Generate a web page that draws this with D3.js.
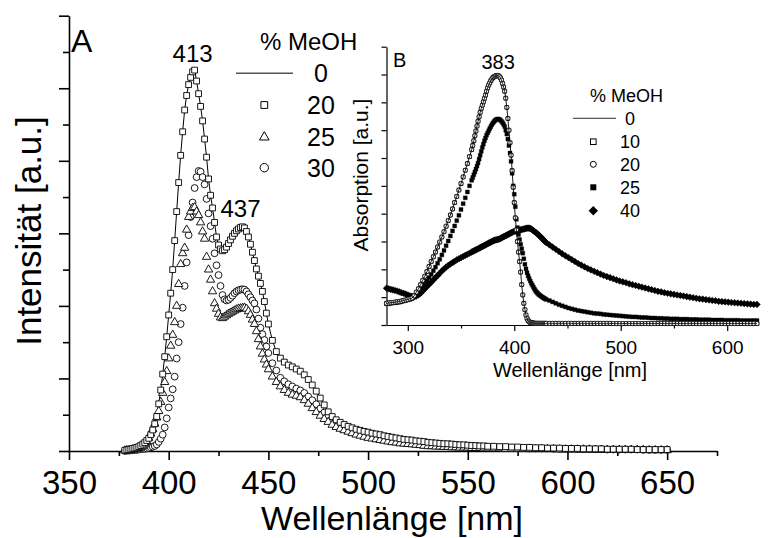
<!DOCTYPE html>
<html><head><meta charset="utf-8">
<script src="https://cdn.jsdelivr.net/npm/d3@7"></script>
<style>
body{margin:0;background:#fff}
svg{display:block;font-family:"Liberation Sans",Arial,Helvetica,sans-serif}
</style>
</head><body>
<svg id="c" width="773" height="538"></svg>
<script>
// ---------------- DATA: panel A (fluorescence) ----------------
const wavelengthsA = [...d3.range(378, 451, 1), ...d3.range(452, 561, 2), ...d3.range(563, 651, 3)];
const intensity20 = [
 0.02,0.03,0.04,0.05,0.07,0.08,0.10,0.12,0.15,0.19,
 0.23,0.29,0.35,0.45,0.58,0.75,0.95,1.30,1.68,2.12,
 2.60,3.15,3.75,4.35,5.00,5.80,6.60,7.40,8.15,8.80,
 9.40,9.80,10.10,10.30,10.45,10.50,10.20,9.85,9.50,9.10,
 8.60,8.10,7.50,7.05,6.70,6.30,5.90,5.68,5.57,5.52,
 5.55,5.62,5.72,5.82,5.92,6.00,6.07,6.12,6.16,6.18,
 6.15,6.05,5.90,5.70,5.48,5.25,5.02,4.82,4.62,4.40,
 4.12,3.80,3.50,
 3.05,2.74,2.56,2.45,2.37,2.32,2.26,2.20,2.10,1.97,
 1.82,1.65,1.46,1.27,1.08,0.95,0.86,0.79,0.73,0.68,
 0.64,0.60,0.57,0.54,0.52,0.49,0.47,0.45,0.42,0.40,
 0.38,0.36,0.34,0.32,0.31,0.30,0.28,0.27,0.26,0.24,
 0.23,0.22,0.21,0.20,0.20,0.19,0.18,0.17,0.17,0.16,
 0.15,0.15,0.14,0.14,0.13,
 0.13,0.12,0.12,0.11,0.11,0.10,0.10,0.09,0.09,0.08,
 0.08,0.08,0.07,0.07,0.07,0.06,0.06,0.06,0.06,0.05,
 0.05,0.05,0.05,0.05,0.04,0.04,0.04,0.04,0.04,0.04
];
const intensity0 = [
 0.02,0.03,0.04,0.05,0.07,0.08,0.10,0.12,0.15,0.19,
 0.23,0.29,0.35,0.45,0.58,0.75,0.95,1.30,1.68,2.12,
 2.60,3.15,3.75,4.35,5.00,5.80,6.60,7.40,8.15,8.80,
 9.40,9.80,10.10,10.30,10.45,10.50,10.20,9.85,9.50,9.10,
 8.60,8.10,7.50,7.05,6.70,6.30,5.90,5.68,5.57,5.52,
 5.55,5.62,5.72,5.82,5.92,6.00,6.07,6.12,6.16,6.18,
 6.15,6.05,5.90,5.70,5.48,5.25,5.02,4.82,4.62,4.40,
 4.12,3.80,3.50,
 3.05,2.74,2.56,2.45,2.37,2.32,2.26,2.20,2.10,1.97,
 1.82,1.65,1.46,1.27,1.08,0.95,0.86,0.79,0.73,0.68,
 0.64,0.60,0.57,0.54,0.52,0.49,0.47,0.45,0.42,0.40,
 0.38,0.36,0.34,0.32,0.31,0.30,0.28,0.27,0.26,0.24,
 0.23,0.22,0.21,0.20,0.20,0.19,0.18,0.17,0.17,0.16,
 0.15,0.15,0.14,0.14,0.13,
 0.13,0.12,0.12,0.11,0.11,0.10,0.10,0.09,0.09,0.08,
 0.08,0.08,0.07,0.07,0.07,0.06,0.06,0.06,0.06,0.05,
 0.05,0.05,0.05,0.05,0.04,0.04,0.04,0.04,0.04,0.04
];
const intensity25 = [
 0.01,0.02,0.02,0.03,0.04,0.05,0.06,0.08,0.10,0.13,
 0.18,0.26,0.36,0.48,0.60,0.75,0.92,1.10,1.35,1.60,
 1.90,2.20,2.55,2.90,3.20,3.55,4.00,4.60,5.15,5.45,
 5.60,6.10,6.45,6.60,6.70,6.72,6.60,6.50,6.30,6.05,
 5.85,5.35,5.00,4.72,4.40,4.07,3.92,3.78,3.68,3.66,
 3.70,3.74,3.78,3.81,3.84,3.87,3.90,3.92,3.93,3.94,
 3.95,3.92,3.85,3.75,3.62,3.50,3.30,3.08,2.88,2.68,
 2.52,2.38,2.25,
 2.05,1.90,1.78,1.68,1.60,1.55,1.52,1.48,1.40,1.30,
 1.18,1.07,0.97,0.88,0.80,0.72,0.66,0.61,0.57,0.53,
 0.49,0.45,0.42,0.39,0.36,0.34,0.32,0.30,0.28,0.26,
 0.24,0.23,0.21,0.20,0.19,0.18,0.17,0.16,0.14,0.13,
 0.13,0.12,0.12,0.11,0.11,0.10,0.10,0.09,0.09,0.09,
 0.08,0.08,0.08,0.07,0.07,
 0.07,0.07,0.06,0.06,0.06,0.06,0.05,0.05,0.05,0.05,
 0.05,0.04,0.04,0.04,0.04,0.04,0.04,0.03,0.03,0.03,
 0.03,0.03,0.03,0.03,0.03,0.03,0.02,0.02,0.02,0.02
];
const intensity30 = [
 0.00,0.01,0.01,0.02,0.02,0.03,0.03,0.04,0.05,0.06,
 0.06,0.07,0.08,0.10,0.12,0.14,0.18,0.25,0.34,0.45,
 0.65,0.90,1.20,1.45,1.70,2.05,2.55,3.00,3.50,3.95,
 4.55,5.20,5.95,6.45,6.85,7.25,7.55,7.72,7.70,7.55,
 7.35,6.95,6.55,6.20,5.85,5.45,5.12,4.85,4.55,4.30,
 4.18,4.15,4.17,4.22,4.28,4.35,4.40,4.43,4.45,4.46,
 4.45,4.40,4.32,4.24,4.15,4.07,3.90,3.65,3.40,3.22,
 3.06,2.88,2.70,
 2.42,2.22,2.02,1.92,1.84,1.78,1.72,1.67,1.60,1.50,
 1.40,1.29,1.17,1.06,0.96,0.87,0.79,0.72,0.66,0.62,
 0.58,0.54,0.51,0.48,0.45,0.43,0.41,0.39,0.37,0.35,
 0.33,0.31,0.29,0.27,0.26,0.24,0.22,0.21,0.19,0.18,
 0.17,0.16,0.16,0.15,0.14,0.14,0.13,0.13,0.12,0.12,
 0.11,0.11,0.10,0.10,0.10,
 0.09,0.09,0.09,0.08,0.08,0.08,0.07,0.07,0.07,0.07,
 0.06,0.06,0.06,0.06,0.05,0.05,0.05,0.05,0.05,0.04,
 0.04,0.04,0.04,0.04,0.04,0.03,0.03,0.03,0.03,0.03
];
const xTicksA = [350, 400, 450, 500, 550, 600, 650];
const legendA = ["0", "20", "25", "30"];
const peakLabelsA = [{nm: 413, text: "413"}, {nm: 437, text: "437"}];

// ---------------- DATA: panel B (absorption) ----------------
const wavelengthsB = [...d3.range(280, 361, 2), ...d3.range(361, 431, 1), ...d3.range(433, 629, 3)];
const absorb10 = [
 0.78,0.79,0.80,0.81,0.82,0.83,0.84,0.86,0.88,0.90,
 0.92,0.94,0.97,1.05,1.18,1.30,1.45,1.60,1.75,1.92,
 2.10,2.28,2.45,2.62,2.80,2.98,3.16,3.35,3.55,3.75,
 3.95,4.17,4.40,4.62,4.85,5.08,5.32,5.56,5.80,6.05,
 6.30,
 6.45,6.62,6.80,6.97,7.15,7.32,7.48,7.64,7.78,7.90,
 8.02,8.14,8.26,8.40,8.52,8.62,8.70,8.78,8.84,8.89,
 8.92,8.94,8.96,8.97,8.96,8.93,8.88,8.80,8.68,8.55,
 8.40,8.15,7.82,7.42,7.00,6.55,6.10,5.55,4.95,4.40,
 3.85,3.42,3.00,2.62,2.28,1.90,1.45,1.08,0.78,0.55,
 0.36,0.24,0.16,0.12,0.09,0.08,0.07,0.07,0.06,0.06,
 0.06,0.06,0.06,0.06,0.06,0.06,0.06,0.06,0.06,0.06,
 0.06,0.06,0.06,0.06,0.06,0.06,0.06,0.06,0.06,0.06,
 0.06,0.06,0.06,0.06,0.06,0.06,0.06,0.06,0.06,0.06,
 0.05,0.05,0.05,0.05,0.05,0.05,0.05,0.05,0.05,0.05,
 0.05,0.05,0.05,0.05,0.05,0.05,0.05,0.05,0.05,0.05,
 0.05,0.05,0.05,0.05,0.05,0.05,0.05,0.05,0.05,0.05,
 0.05,0.05,0.05,0.05,0.05,0.05,0.05,0.05,0.05,0.05,
 0.05,0.05,0.05,0.05,0.05,0.05
];
const absorb20 = absorb10.map(v => v); // 10 % and 20 % MeOH curves lie on top of each other
const absorb0 = absorb10.map(v => v);  // line for 0 % MeOH coincides as well
const absorb25 = [
 0.76,0.77,0.78,0.79,0.80,0.81,0.82,0.84,0.86,0.88,
 0.90,0.92,0.95,1.00,1.08,1.17,1.26,1.36,1.47,1.58,
 1.70,1.82,1.95,2.08,2.22,2.36,2.52,2.68,2.85,3.02,
 3.20,3.38,3.56,3.75,3.94,4.15,4.36,4.57,4.78,5.00,
 5.20,
 5.30,5.40,5.50,5.60,5.71,5.82,5.96,6.10,6.24,6.38,
 6.50,6.62,6.72,6.82,6.90,6.98,7.06,7.13,7.20,7.26,
 7.31,7.35,7.38,7.40,7.40,7.39,7.36,7.32,7.27,7.21,
 7.13,7.00,6.86,6.68,6.45,6.18,5.88,5.45,5.00,4.70,
 4.25,3.80,3.50,3.25,3.07,2.90,2.74,2.58,2.38,2.18,
 2.02,1.88,1.77,1.67,1.58,1.50,1.43,1.36,1.29,1.23,
 1.18,1.14,1.10,1.07,1.04,1.01,0.99,0.96,0.94,0.92,
 0.88,0.83,0.78,0.73,0.69,0.65,0.61,0.58,0.55,0.52,
 0.50,0.48,0.46,0.44,0.42,0.41,0.40,0.38,0.37,0.36,
 0.35,0.34,0.33,0.32,0.31,0.30,0.29,0.29,0.28,0.27,
 0.27,0.26,0.25,0.25,0.24,0.24,0.23,0.23,0.22,0.22,
 0.22,0.21,0.21,0.21,0.20,0.20,0.20,0.19,0.19,0.19,
 0.19,0.18,0.18,0.18,0.18,0.17,0.17,0.17,0.17,0.17,
 0.16,0.16,0.16,0.16,0.16,0.16
];
const absorb40 = [
 1.32,1.30,1.28,1.26,1.24,1.22,1.19,1.16,1.14,1.11,
 1.08,1.05,1.03,1.02,1.04,1.08,1.14,1.22,1.30,1.38,
 1.46,1.54,1.62,1.70,1.78,1.86,1.94,2.01,2.08,2.14,
 2.19,2.24,2.29,2.34,2.38,2.42,2.46,2.50,2.54,2.58,
 2.62,
 2.64,2.66,2.68,2.70,2.72,2.74,2.76,2.78,2.80,2.82,
 2.84,2.86,2.88,2.90,2.92,2.94,2.96,2.98,3.00,3.02,
 3.04,3.05,3.06,3.07,3.08,3.09,3.11,3.13,3.15,3.17,
 3.19,3.21,3.23,3.25,3.27,3.29,3.31,3.33,3.35,3.36,
 3.37,3.38,3.39,3.40,3.41,3.42,3.43,3.44,3.45,3.46,
 3.47,3.48,3.48,3.48,3.47,3.45,3.42,3.39,3.36,3.33,
 3.30,3.27,3.23,3.20,3.16,3.12,3.08,3.04,3.00,2.96,
 2.88,2.80,2.72,2.64,2.56,2.49,2.42,2.35,2.28,2.21,
 2.15,2.09,2.03,1.98,1.93,1.88,1.83,1.78,1.74,1.70,
 1.66,1.62,1.58,1.55,1.52,1.48,1.45,1.42,1.39,1.36,
 1.33,1.30,1.27,1.24,1.21,1.19,1.16,1.14,1.12,1.10,
 1.08,1.06,1.04,1.02,1.00,0.98,0.96,0.94,0.93,0.91,
 0.90,0.88,0.87,0.85,0.84,0.83,0.82,0.81,0.80,0.79,
 0.78,0.77,0.76,0.75,0.74,0.74
];
const xTicksB = [300, 400, 500, 600];
const legendB = ["0", "10", "20", "25", "40"];
const peakLabelsB = [{nm: 383, text: "383"}];

// ---------------- DRAWING ----------------
const svg = d3.select("#c");
svg.append("rect").attr("width", 773).attr("height", 538).attr("fill", "#fff");

function styleAxis(g, sw) {
  g.selectAll("path.domain").attr("stroke", "#000").attr("stroke-width", sw);
  g.selectAll(".tick line").attr("stroke", "#000").attr("stroke-width", sw);
  g.selectAll(".tick text").attr("fill", "#000").attr("font-family", null);
}

function markers(g, xs, ys, xS, yS, sym, size, fill, stroke, sw, rot) {
  const gen = d3.symbol().type(sym).size(size);
  g.append("g").selectAll("path").data(xs.map((x, i) => [x, ys[i]]))
    .join("path")
    .attr("d", gen)
    .attr("transform", d => `translate(${xS(d[0])},${yS(d[1])})${rot ? " rotate(" + rot + ")" : ""}`)
    .attr("fill", fill).attr("stroke", stroke).attr("stroke-width", sw);
}

// ===== Panel A =====
const xA = d3.scaleLinear().domain([350, 675]).range([69, 717]);
const yA = d3.scaleLinear().domain([0, 12]).range([451, 15.7]);
const gA = svg.append("g");

// minor x ticks
gA.append("g").attr("transform", "translate(0,451)")
  .call(d3.axisBottom(xA).tickValues(d3.range(375, 676, 50)).tickSizeInner(5).tickSizeOuter(0).tickFormat(""))
  .call(g => { styleAxis(g, 1.6); g.select(".domain").remove(); });
// major x ticks with labels
const axA = gA.append("g").attr("transform", "translate(0,451)")
  .call(d3.axisBottom(xA).tickValues(xTicksA).tickSizeInner(9).tickSizeOuter(0).tickFormat(d3.format("d")));
styleAxis(axA, 1.6);
axA.selectAll(".tick text").attr("y", 43).attr("dy", 0).attr("font-size", 33);

// y axis (no labels)
gA.append("g").attr("transform", "translate(69,0)")
  .call(d3.axisLeft(yA).tickValues(d3.range(1, 12, 2)).tickSizeInner(6).tickSizeOuter(0).tickFormat(""))
  .call(g => { styleAxis(g, 1.6); g.select(".domain").remove(); });
const ayA = gA.append("g").attr("transform", "translate(69,0)")
  .call(d3.axisLeft(yA).tickValues(d3.range(0, 13, 2)).tickSizeInner(10).tickSizeOuter(0).tickFormat(""));
styleAxis(ayA, 1.6);

// axis titles
gA.append("text").attr("x", 392).attr("y", 530).attr("text-anchor", "middle")
  .attr("font-size", 34).text("Wellenlänge [nm]");
gA.append("text").attr("transform", "translate(41,231) rotate(-90)").attr("text-anchor", "middle")
  .attr("font-size", 35).text("Intensität [a.u.]");
gA.append("text").attr("x", 71).attr("y", 52).attr("font-size", 32).text("A");

// data A
const dA = gA.append("g");
dA.append("path").datum(intensity0)
  .attr("d", d3.line().x((v, i) => xA(wavelengthsA[i])).y(v => yA(v)))
  .attr("fill", "none").attr("stroke", "#000").attr("stroke-width", 1);
markers(dA, wavelengthsA, intensity30, xA, yA, d3.symbolCircle, Math.PI * 3.4 * 3.4, "#fff", "#000", 0.9);
markers(dA, wavelengthsA, intensity25, xA, yA, d3.symbolTriangle, 30, "#fff", "#000", 0.9);
markers(dA, wavelengthsA, intensity20, xA, yA, d3.symbolSquare, 34, "#fff", "#000", 0.9);

// peak labels A
gA.selectAll("text.peakA").data(peakLabelsA).join("text").attr("class", "peakA")
  .attr("x", d => xA(d.nm) - 2)
  .attr("y", d => d.nm === 413 ? 62 : 217)
  .attr("text-anchor", "middle").attr("font-size", 24).text(d => d.text);

// legend A
const lgA = gA.append("g");
lgA.append("text").attr("x", 260).attr("y", 50).attr("font-size", 24).text("% MeOH");
const rowYA = [73.3, 105, 136.7, 167.7];
lgA.append("line").attr("x1", 236).attr("x2", 293).attr("y1", rowYA[0]).attr("y2", rowYA[0])
  .attr("stroke", "#555").attr("stroke-width", 1.6);
lgA.append("path").attr("d", d3.symbol().type(d3.symbolSquare).size(46)())
  .attr("transform", `translate(264.3,${rowYA[1]})`).attr("fill", "#fff").attr("stroke", "#000").attr("stroke-width", 1);
lgA.append("path").attr("d", d3.symbol().type(d3.symbolTriangle).size(40)())
  .attr("transform", `translate(264.3,${rowYA[2] + 0.5})`).attr("fill", "#fff").attr("stroke", "#000").attr("stroke-width", 1);
lgA.append("circle").attr("cx", 264.3).attr("cy", rowYA[3]).attr("r", 4.2)
  .attr("fill", "#fff").attr("stroke", "#000").attr("stroke-width", 1);
lgA.selectAll("text.lab").data(legendA).join("text").attr("class", "lab")
  .attr("x", 321).attr("y", (d, i) => rowYA[i] + 9).attr("text-anchor", "middle")
  .attr("font-size", 25).text(d => d);

// ===== Panel B (inset) =====
const xB = d3.scaleLinear().domain([280, 628]).range([386.5, 757]);
const yB = d3.scaleLinear().domain([0, 10]).range([325, 46.7]);
const gB = svg.append("g");

gB.append("g").attr("transform", "translate(0,325)")
  .call(d3.axisBottom(xB).tickValues([350, 450, 550]).tickSizeInner(3.5).tickSizeOuter(0).tickFormat(""))
  .call(g => { styleAxis(g, 1.2); g.select(".domain").remove(); });
const axB = gB.append("g").attr("transform", "translate(0,325)")
  .call(d3.axisBottom(xB).tickValues(xTicksB).tickSizeInner(6).tickSizeOuter(0).tickFormat(d3.format("d")));
styleAxis(axB, 1.2);
axB.selectAll(".tick text").attr("y", 28.5).attr("dy", 0).attr("font-size", 19);

const ayB = gB.append("g").attr("transform", "translate(386.5,0)")
  .call(d3.axisLeft(yB).tickValues(d3.range(0, 11, 1)).tickSizeInner(5).tickSizeOuter(0).tickFormat(""));
styleAxis(ayB, 1.2);

gB.append("text").attr("x", 570).attr("y", 377).attr("text-anchor", "middle")
  .attr("font-size", 20).text("Wellenlänge [nm]");
gB.append("text").attr("transform", "translate(368,175) rotate(-90)").attr("text-anchor", "middle")
  .attr("font-size", 21).text("Absorption [a.u.]");
gB.append("text").attr("x", 393).attr("y", 67).attr("font-size", 20).text("B");

const dB = gB.append("g");
markers(dB, wavelengthsB, absorb40, xB, yB, d3.symbolSquare, 22, "#000", "#000", 0.5, 45);
markers(dB, wavelengthsB, absorb25, xB, yB, d3.symbolSquare, 16, "#000", "#000", 0.3);
markers(dB, wavelengthsB, absorb10, xB, yB, d3.symbolSquare, 14, "#fff", "#000", 0.8);
markers(dB, wavelengthsB, absorb20, xB, yB, d3.symbolCircle, 14, "#fff", "#000", 0.8);
dB.append("path").datum(absorb0)
  .attr("d", d3.line().x((v, i) => xB(wavelengthsB[i])).y(v => yB(v)))
  .attr("fill", "none").attr("stroke", "#000").attr("stroke-width", 0.9);

gB.selectAll("text.peakB").data(peakLabelsB).join("text").attr("class", "peakB")
  .attr("x", d => xB(d.nm) + 2).attr("y", 69)
  .attr("text-anchor", "middle").attr("font-size", 20).text(d => d.text);

// legend B
const lgB = gB.append("g");
lgB.append("text").attr("x", 590).attr("y", 101.5).attr("font-size", 18).text("% MeOH");
const rowYB = [118.3, 141.7, 164.3, 187.3, 210.7];
lgB.append("line").attr("x1", 573).attr("x2", 616).attr("y1", rowYB[0]).attr("y2", rowYB[0])
  .attr("stroke", "#555").attr("stroke-width", 1.3);
lgB.append("rect").attr("x", 590.5).attr("y", rowYB[1] - 2.8).attr("width", 5.6).attr("height", 5.6)
  .attr("fill", "#fff").attr("stroke", "#000").attr("stroke-width", 1);
lgB.append("circle").attr("cx", 593.3).attr("cy", rowYB[2]).attr("r", 3)
  .attr("fill", "#fff").attr("stroke", "#000").attr("stroke-width", 1);
lgB.append("rect").attr("x", 590.3).attr("y", rowYB[3] - 3).attr("width", 6).attr("height", 6)
  .attr("fill", "#000");
lgB.append("path").attr("d", d3.symbol().type(d3.symbolSquare).size(44)())
  .attr("transform", `translate(593.3,${rowYB[4]}) rotate(45)`).attr("fill", "#000");
lgB.selectAll("text.lab").data(legendB).join("text").attr("class", "lab")
  .attr("x", 630).attr("y", (d, i) => rowYB[i] + 6.5).attr("text-anchor", "middle")
  .attr("font-size", 18).text(d => d);
</script>
</body></html>
